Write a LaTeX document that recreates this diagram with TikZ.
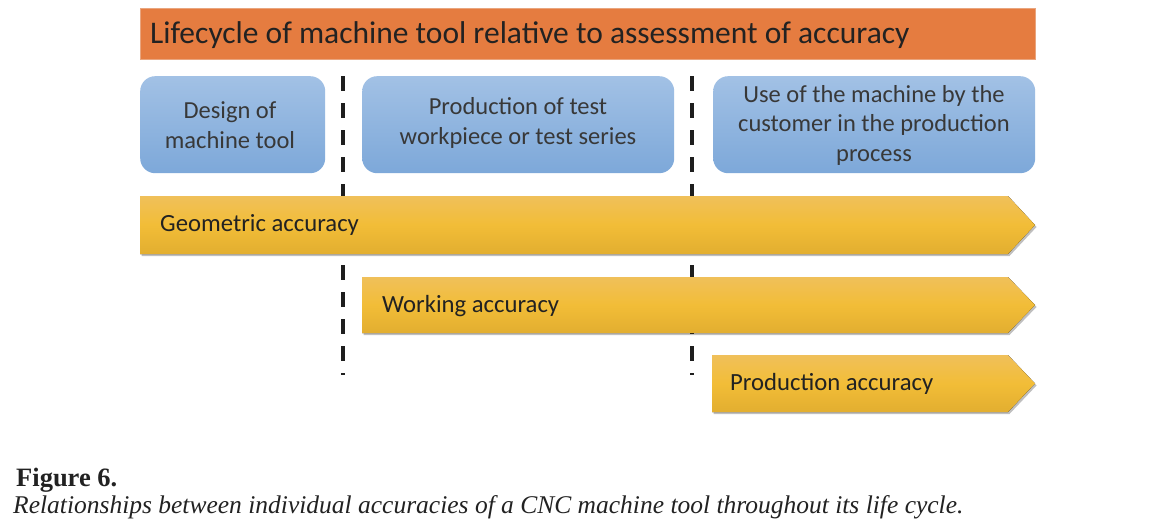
\documentclass[tikz,border=0pt]{standalone}
\usepackage{fontspec}
\setmainfont{Liberation Serif}
\newfontfamily\carl{Carlito}
\usetikzlibrary{shadows}
\definecolor{titleor}{HTML}{E57C40}
\definecolor{titleedge}{HTML}{E9A57E}
\definecolor{bluetop}{HTML}{A2C1E5}
\definecolor{bluebot}{HTML}{7DA8D9}
\definecolor{yeltop}{HTML}{F0C05A}
\definecolor{yelmid}{HTML}{F2BD37}
\definecolor{yelbot}{HTML}{E2AE30}
\definecolor{txtdark}{HTML}{222222}
\definecolor{dashcol}{HTML}{1E1E1E}
\tikzset{
  titlebar/.style={fill=titleor, draw=titleedge, line width=1.2pt, anchor=north west, inner sep=0pt},
  bluebox/.style={top color=bluetop, bottom color=bluebot, draw=none, rounded corners=15pt,
    anchor=north west, inner sep=0pt},
  boxtext/.style={font=\carl\fontsize{24.5}{29.5}\selectfont, text=txtdark!90!white, align=center},
  yelarrow/.style={top color=yeltop, bottom color=yelbot, middle color=yelmid, draw=none,
    drop shadow={shadow xshift=1.5pt, shadow yshift=-2pt, opacity=0.25, fill=black}},
  arrowtext/.style={font=\carl\fontsize{24.7}{28}\selectfont, text=txtdark, anchor=west, inner sep=0pt},
  divider/.style={draw=dashcol, line width=3.5pt, dash pattern=on 15pt off 12pt},
}
\begin{document}
\begin{tikzpicture}[x=1pt,y=-1pt]
\useasboundingbox (0,0) rectangle (1164,522);
\fill[white] (0,0) rectangle (1164,522);

% dividers
\coordinate (d1a) at (343,76);
\coordinate (d1b) at (343,375);
\coordinate (d2a) at (692,76);
\coordinate (d2b) at (692,375);
\draw[divider] (d1a) -- (d1b);
\draw[divider] (d2a) -- (d2b);

% title
\node[titlebar, minimum width=895pt, minimum height=51pt] (title) at (140,8) {};
\node[font=\carl\fontsize{31.5}{34}\selectfont, text=txtdark, anchor=west, inner sep=0pt] (titletext) at (150,35)
  {Lifecycle of machine tool relative to assessment of accuracy};

% phase boxes
\node[bluebox, minimum width=185pt, minimum height=97pt] (b1) at (140,76) {};
\node[bluebox, minimum width=312pt, minimum height=97pt] (b2) at (362,76) {};
\node[bluebox, minimum width=322pt, minimum height=97pt] (b3) at (713,76) {};
\node[boxtext] (t1) at (230,125) {Design of\\machine tool};
\node[boxtext] (t2) at (518,123) {Production of test\\workpiece or test series};
\node[boxtext] (t3) at (874,125) {Use of the machine by the\\customer in the production\\process};

% accuracy arrows
\fill[yelarrow] (140,196) -- (1008,196) -- (1035,225) -- (1008,254) -- (140,254) -- cycle;
\fill[yelarrow] (362,277) -- (1008,277) -- (1035,305) -- (1008,333) -- (362,333) -- cycle;
\fill[yelarrow] (712,355) -- (1008,355) -- (1035,383.5) -- (1008,412) -- (712,412) -- cycle;
\node[arrowtext] (a1) at (160,225) {Geometric accuracy};
\node[arrowtext] (a2) at (382,306) {Working accuracy};
\node[arrowtext] (a3) at (730,384) {Production accuracy};

% caption
\node[anchor=base west, inner sep=0pt, font=\fontsize{26.5}{30}\selectfont\bfseries, text=txtdark] (fig) at (16,486) {Figure 6.};
\node[anchor=base west, inner sep=0pt, font=\fontsize{25.5}{30}\selectfont\itshape, text=txtdark] (cap) at (13,513)
  {Relationships between individual accuracies of a CNC machine tool throughout its life cycle.};
\end{tikzpicture}
\end{document}
